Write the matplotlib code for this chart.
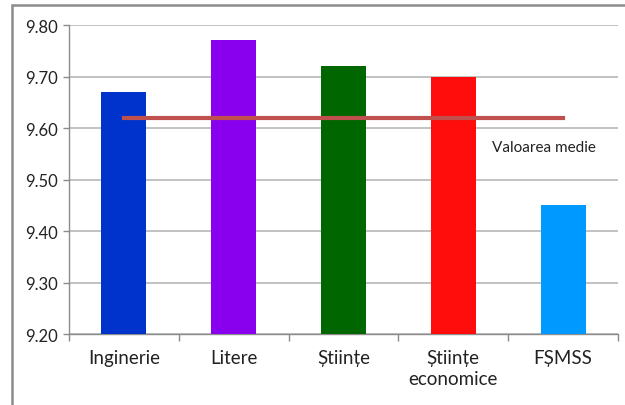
import matplotlib.pyplot as plt
from matplotlib.patches import Rectangle
import numpy as np

categories = ["Inginerie", "Litere", "Științe", "Științe\neconomice", "FȘMSS"]
values = [9.67, 9.77, 9.72, 9.70, 9.45]
colors = ["#0033CC", "#8800EE", "#006600", "#FF0D0D", "#0099FF"]
mean_value = 9.62
mean_label = "Valoarea medie"
yticks = [9.20, 9.30, 9.40, 9.50, 9.60, 9.70, 9.80]

plt.rcParams['font.family'] = ['Lato', 'DejaVu Sans']

fig = plt.figure(figsize=(6.25, 4.06), dpi=100)
# outer chart frame
fig.patches.append(Rectangle((12/625, -0.05), 1.2, (406-6)/406 + 0.05,
                             transform=fig.transFigure, fill=False,
                             edgecolor="#8c8c8c", linewidth=1.8))

ax = fig.add_axes([69/625, 1-335/406, (618-69)/625, (335-26)/406])
x = np.arange(len(categories))
ax.bar(x, values, width=0.41, color=colors, zorder=3)
ax.plot([x[0], x[-1]], [mean_value, mean_value], color="#C0504D",
        linewidth=3, zorder=4)
ax.text(3.83, 9.563, mean_label, ha="center", va="center", fontsize=11,
        color="#222222")

ax.set_ylim(9.20, 9.80)
ax.set_xlim(-0.5, len(categories) - 0.5)
ax.set_yticks(yticks)
ax.set_yticklabels([f"{v:.2f}" for v in yticks], fontsize=12, color="#222222")
ax.yaxis.grid(True, color="#b8b8b8", linewidth=1.2, zorder=0)

ax.set_xticks(x)
ax.set_xticklabels(categories, fontsize=13.5, linespacing=1.25, color="#222222")
ax.set_xticks(np.arange(-0.5, len(categories)), minor=True)
ax.tick_params(axis="x", which="major", length=0, pad=11)
ax.tick_params(axis="x", which="minor", length=5, color="#8c8c8c", width=1)
ax.tick_params(axis="y", length=4, color="#8c8c8c", width=1, pad=4)

for side in ["top", "right"]:
    ax.spines[side].set_visible(False)
for side in ["left", "bottom"]:
    ax.spines[side].set_color("#8c8c8c")
    ax.spines[side].set_linewidth(1)

fig.savefig("out.png", dpi=100)
